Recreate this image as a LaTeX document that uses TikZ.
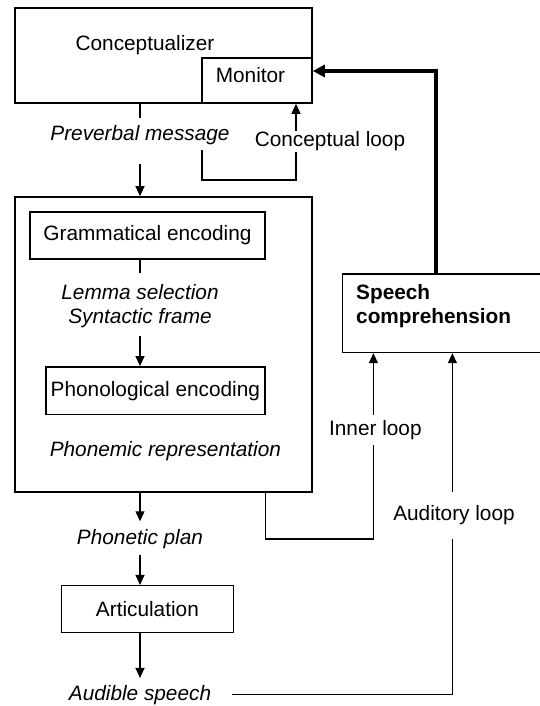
\documentclass[tikz,border=0pt]{standalone}
\usepackage{fontspec}
\setmainfont{Liberation Sans}
\usetikzlibrary{arrows.meta,positioning}

\begin{document}
\begin{tikzpicture}[x=1pt,y=1pt,font=\fontsize{10.4}{12}\selectfont,
    boxstyle/.style={draw,line width=0.8pt,inner sep=0},
    textstyle/.style={inner sep=0},
    flowtext/.style={inner sep=0,font=\fontsize{10.4}{12}\selectfont\itshape},
    flowstyle/.style={line width=0.6pt},
    arrowstyle/.style={line width=0.6pt,-{Triangle[length=5pt,width=4.5pt]}},
    loopstyle/.style={fill=white,inner xsep=0,inner ysep=#1}]
    \useasboundingbox (0,0) rectangle (270,353);
    % boxes
    \node[boxstyle,minimum width=148.5pt,minimum height=47.5pt] (concept) at (81.75,325.25) {};
    \node[boxstyle,minimum width=55pt,minimum height=22.5pt] (monitor) at (128.5,312.75) {};
    \node[boxstyle,minimum width=148.5pt,minimum height=147.5pt] (formulator) at (81.75,180.75) {};
    \node[boxstyle,minimum width=117.5pt,minimum height=23.6pt] (gram) at (73.75,235.3) {Grammatical encoding};
    \node[boxstyle,minimum width=109.4pt,minimum height=23.9pt] (phon) at (77.7,157.6) {Phonological encoding};
    \node[boxstyle,minimum width=86pt,minimum height=23.5pt] (artic) at (73.7,48.4) {Articulation};
    \node[boxstyle,minimum width=120pt,minimum height=39.2pt] (speech) at (231.2,196.4) {};
    % texts
    \node[textstyle] (concepttext) at (72.5,330.3) {Conceptualizer};
    \node[textstyle] (monitortext) at (125.25,315.4) {Monitor};
    \node[textstyle,anchor=west,align=left,font=\fontsize{10.4}{12}\selectfont\bfseries] (speechtext) at (177.9,200) {Speech\\comprehension};
    \node[flowtext] (preverbal) at (70,285.3) {Preverbal message};
    \node[flowtext,align=center] (lemma) at (70,200) {Lemma selection\\Syntactic frame};
    \node[flowtext] (phonemic) at (82.7,127.65) {Phonemic representation};
    \node[flowtext] (phonetic) at (70,83.65) {Phonetic plan};
    \node[flowtext] (audible) at (70,5.65) {Audible speech};
    % main flow
    \draw[flowstyle,shorten >=3.85pt] (preverbal |- concept.south) -- (preverbal.north);
    \draw[arrowstyle,shorten <=9.45pt] (preverbal.south) -- (preverbal |- formulator.north);
    \draw[flowstyle,shorten >=5.5pt] (lemma |- gram.south) -- (lemma.north);
    \draw[arrowstyle,shorten <=4.15pt] (lemma.south) -- (lemma |- phon.north);
    \draw[arrowstyle,shorten >=3.65pt] (phonetic |- formulator.south) -- (phonetic.north);
    \draw[arrowstyle,shorten <=2.95pt] (phonetic.south) -- (phonetic |- artic.north);
    \draw[arrowstyle,shorten >=3.35pt] (audible |- artic.south) -- (audible.north);
    % loops
    \coordinate (cstart) at (101,278);
    \coordinate (cturn) at (148,263);
    \draw[arrowstyle] (cstart) |- (cturn) -- (cturn |- monitor.south);
    \node[loopstyle=0.5pt] (concloop) at (165,282.3) {Conceptual loop};
    \coordinate (iturn) at (186.7,83.5);
    \draw[arrowstyle] (gram.east |- formulator.south) |- (iturn) -- (iturn |- speech.south);
    \node[loopstyle=2.6pt] (innerloop) at (187.7,138.15) {Inner loop};
    \coordinate (aturn) at (226.2,96);
    \draw[arrowstyle,shorten <=10.4pt] (audible.east) -| (aturn |- speech.south);
    \node[loopstyle=6.8pt] (audloop) at (227,95.2) {Auditory loop};
    \coordinate (tcorner) at (218,317.5);
    \draw[line width=2pt,-{Triangle[length=6pt,width=6pt]}] (tcorner |- speech.north) -- (tcorner) -- (tcorner -| monitor.east);
\end{tikzpicture}
\end{document}
